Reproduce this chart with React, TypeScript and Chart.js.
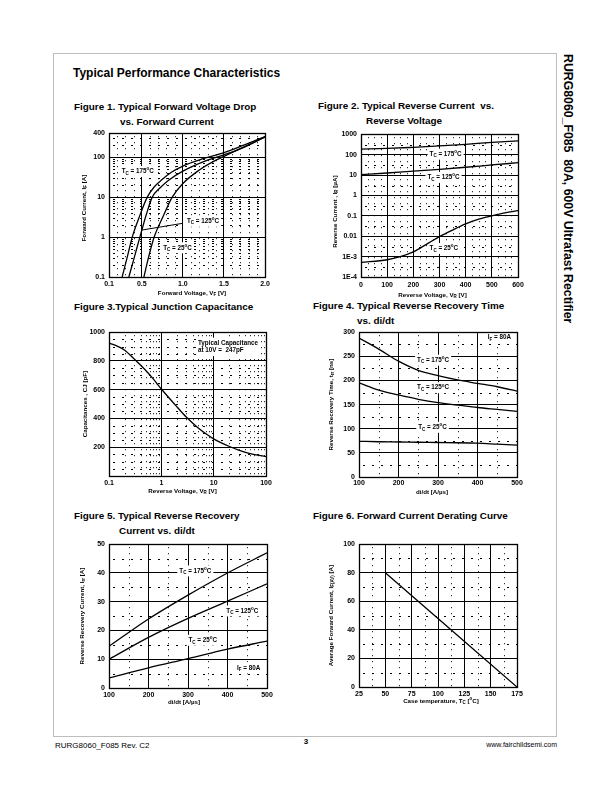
import React, { useEffect, useRef } from "react";
import { Chart, registerables } from "chart.js";
Chart.register(...registerables);

const FONT = "'Liberation Sans', Arial, Helvetica, sans-serif";

// ---------------- DATA ----------------
// Figure 1: forward voltage (V) vs forward current (A)
const fig1XTicks = [0.1, 0.5, 1.0, 1.5, 2.0];
const fig1XLabels = ["0.1", "0.5", "1.0", "1.5", "2.0"];
const fig1YTicks = [0.1, 1, 10, 100, 400];
const fig1YLabels = ["0.1", "1", "10", "100", "400"];
const fig1V175 = [0.26, 0.32, 0.383, 0.476, 0.566, 0.65, 0.75, 0.86, 1.0, 1.22, 1.5, 1.75, 2.0];
const fig1I175 = [0.1, 0.3, 1, 3.5, 10, 18, 28, 42, 60, 88, 130, 205, 330];
const fig1V125 = [0.342, 0.41, 0.476, 0.5, 0.56, 0.627, 0.72, 0.83, 1.0, 1.3, 1.5, 1.75, 2.0];
const fig1I125 = [0.1, 0.32, 1, 1.5, 4, 10, 17, 27, 45, 85, 115, 180, 325];
const fig1V25 = [0.525, 0.58, 0.65, 0.75, 0.87, 1.0, 1.2, 1.38, 1.5, 1.66, 2.0];
const fig1I25 = [0.1, 0.3, 1, 3, 10, 22, 48, 80, 105, 150, 320];

// Figure 2: reverse voltage (V) vs reverse current (uA)
const fig2XTicks = [0, 100, 200, 300, 400, 500, 600];
const fig2XLabels = ["0", "100", "200", "300", "400", "500", "600"];
const fig2YTicks = [1e-4, 1e-3, 0.01, 0.1, 1, 10, 100, 1000];
const fig2YLabels = ["1E-4", "1E-3", "0.01", "0.1", "1", "10", "100", "1000"];
const fig2V = [0, 100, 200, 300, 400, 500, 600];
const fig2I175 = [185, 200, 228, 265, 320, 395, 470];
const fig2I125 = [10.5, 12.5, 15.5, 19, 24, 31, 40];
const fig2V25 = [0, 100, 150, 200, 250, 300, 350, 400, 450, 500, 550, 600];
const fig2I25 = [5.2e-4, 7e-4, 1e-3, 1.7e-3, 4e-3, 9.5e-3, 0.02, 0.04, 0.068, 0.1, 0.14, 0.18];

// Figure 3: reverse voltage (V) vs junction capacitance (pF)
const fig3XTicks = [0.1, 1, 10, 100];
const fig3XLabels = ["0.1", "1", "10", "100"];
const fig3YTicks = [0, 200, 400, 600, 800, 1000];
const fig3YLabels = ["", "200", "400", "600", "800", "1000"];
const fig3V = [0.1, 0.15, 0.2, 0.3, 0.5, 0.7, 1, 2, 3, 5, 7, 10, 20, 30, 50, 100];
const fig3C = [925, 900, 875, 815, 735, 675, 605, 480, 410, 335, 295, 258, 205, 180, 155, 135];

// Figure 4: di/dt (A/us) vs trr (ns)
const fig4XTicks = [100, 200, 300, 400, 500];
const fig4XLabels = ["100", "200", "300", "400", "500"];
const fig4YTicks = [0, 50, 100, 150, 200, 250, 300];
const fig4YLabels = ["0", "50", "100", "150", "200", "250", "300"];
const fig4DiDt = [100, 150, 200, 250, 300, 350, 400, 450, 500];
const fig4T175 = [288, 265, 240, 221, 210, 201, 194, 187, 178];
const fig4T125 = [195, 180, 170, 161, 154, 149, 144, 140, 136];
const fig4T25 = [74, 73, 72.5, 72, 71.5, 71, 70, 68, 66];

// Figure 5: di/dt (A/us) vs Irr (A)
const fig5XTicks = [100, 200, 300, 400, 500];
const fig5XLabels = ["100", "200", "300", "400", "500"];
const fig5YTicks = [0, 10, 20, 30, 40, 50];
const fig5YLabels = ["0", "10", "20", "30", "40", "50"];
const fig5DiDt = [100, 200, 300, 400, 500];
const fig5I175 = [14.5, 24, 32.3, 40, 47];
const fig5I125 = [10, 17.6, 24.2, 30.2, 36.2];
const fig5I25 = [3.5, 7, 10.2, 13.5, 16.3];

// Figure 6: case temperature (C) vs average forward current (A)
const fig6XTicks = [25, 50, 75, 100, 125, 150, 175];
const fig6XLabels = ["25", "50", "75", "100", "125", "150", "175"];
const fig6YTicks = [0, 20, 40, 60, 80, 100];
const fig6YLabels = ["0", "20", "40", "60", "80", "100"];
const fig6Tc = [50, 175];
const fig6I = [80, 0];

// ---------------- helpers ----------------
type Seg = [string] | [string, "sub" | "sup"];
type Ann = { x: number; y: number; lines: Seg[][]; box?: boolean };

const logMinor = (decades: number[], max: number) => {
  const out: number[] = [];
  decades.forEach((d) => {
    for (let k = 2; k <= 9; k++) if (d * k < max) out.push(d * k);
  });
  return out;
};
const stepMinor = (min: number, max: number, step: number, skip: number) => {
  const out: number[] = [];
  for (let v = min + step; v < max - 1e-9; v += step) {
    if (Math.abs(v / skip - Math.round(v / skip)) > 1e-6) out.push(+v.toFixed(4));
  }
  return out;
};

function richWidth(ctx: CanvasRenderingContext2D, parts: Seg[], size: number) {
  let w = 0;
  for (const [t, k] of parts) {
    ctx.font = `bold ${k ? size * 0.72 : size}px ${FONT}`;
    w += ctx.measureText(t).width;
  }
  return w;
}
function drawRich(ctx: CanvasRenderingContext2D, parts: Seg[], x: number, y: number, size: number) {
  ctx.textBaseline = "middle";
  ctx.textAlign = "left";
  let cx = x;
  for (const [t, k] of parts) {
    ctx.font = `bold ${k ? size * 0.72 : size}px ${FONT}`;
    const dy = k === "sub" ? size * 0.32 : k === "sup" ? -size * 0.38 : 0;
    ctx.fillText(t, cx, y + dy);
    cx += ctx.measureText(t).width;
  }
}

const tc = (t: string): Seg[] => [["T"], ["C", "sub"], [" = " + t], ["o", "sup"], ["C"]];

interface Series { x: number[]; y: number[] }
interface FigProps {
  plot: { l: number; t: number; r: number; b: number };
  xType: "linear" | "logarithmic";
  yType: "linear" | "logarithmic";
  xMin: number; xMax: number; yMin: number; yMax: number;
  xTicks: number[]; xLabels: string[]; yTicks: number[]; yLabels: string[];
  xMinor: number[]; yMinor: number[];
  series: Series[];
  anns: Ann[];
  segs?: [number, number, number, number][];
  xTitle: Seg[]; yTitle: Seg[];
  xTickPad: number; xTitleOff: number; xTitleShift: number; yTitleOff: number; yTitleShift?: number;
}

const PL = 54, PR = 14, PT = 8, PB = 34;
const ANN = 6.3;
const AXT = 6.2;

function FigChart(p: FigProps) {
  const ref = useRef<HTMLCanvasElement>(null);
  const w = p.plot.r - p.plot.l + PL + PR;
  const h = p.plot.b - p.plot.t + PT + PB;
  useEffect(() => {
    const decor = {
      id: "decor",
      beforeDatasetsDraw(chart: any) {
        const { ctx, chartArea: a, scales } = chart;
        const xs = scales.x, ys = scales.y;
        ctx.save();
        ctx.strokeStyle = "#000";
        ctx.lineWidth = 1;
        ctx.setLineDash([1, 5]);
        p.xMinor.forEach((v) => {
          const px = Math.round(xs.getPixelForValue(v)) + 0.5;
          ctx.beginPath(); ctx.moveTo(px, a.top + 3); ctx.lineTo(px, a.bottom); ctx.stroke();
        });
        ctx.setLineDash([2, 7]);
        p.yMinor.forEach((v) => {
          const py = Math.round(ys.getPixelForValue(v)) + 0.5;
          ctx.beginPath(); ctx.moveTo(a.left + 4, py); ctx.lineTo(a.right, py); ctx.stroke();
        });
        ctx.setLineDash([]);
        ctx.fillStyle = "#000";
        p.anns.forEach((an) => {
          const px = xs.getPixelForValue(an.x);
          const py = ys.getPixelForValue(an.y);
          const lh = 7.5;
          const wMax = Math.max(...an.lines.map((l) => richWidth(ctx, l, ANN)));
          if (an.box !== false) {
            ctx.fillStyle = "#fff";
            ctx.fillRect(px - 2, py - 5.5, wMax + 4, lh * (an.lines.length - 1) + 11);
          }
          ctx.fillStyle = "#000";
          an.lines.forEach((l, i) => drawRich(ctx, l, px, py + i * lh, ANN));
        });
        (p.segs || []).forEach(([x1, y1, x2, y2]) => {
          ctx.lineWidth = 1;
          ctx.beginPath();
          ctx.moveTo(xs.getPixelForValue(x1), ys.getPixelForValue(y1));
          ctx.lineTo(xs.getPixelForValue(x2), ys.getPixelForValue(y2));
          ctx.stroke();
        });
        ctx.restore();
      },
      afterDatasetsDraw(chart: any) {
        const { ctx, chartArea: a } = chart;
        ctx.save();
        ctx.strokeStyle = "#000";
        ctx.lineWidth = 1.3;
        ctx.strokeRect(Math.round(a.left) + 0.5, Math.round(a.top) + 0.5, Math.round(a.right - a.left), Math.round(a.bottom - a.top));
        ctx.fillStyle = "#000";
        const xw = richWidth(ctx, p.xTitle, AXT);
        drawRich(ctx, p.xTitle, (a.left + a.right) / 2 - xw / 2 + p.xTitleShift, a.bottom + p.xTitleOff, AXT);
        const yw = richWidth(ctx, p.yTitle, AXT);
        ctx.translate(a.left - p.yTitleOff, (a.top + a.bottom) / 2 + (p.yTitleShift || 0));
        ctx.rotate(-Math.PI / 2);
        drawRich(ctx, p.yTitle, -yw / 2, 0, AXT);
        ctx.restore();
      },
    };
    const tickFont = { family: FONT, size: 7, weight: "bold" as const };
    const chart = new Chart(ref.current!, {
      type: "line",
      data: {
        datasets: p.series.map((s) => ({
          data: s.x.map((x, i) => ({ x, y: s.y[i] })),
          borderColor: "#000",
          borderWidth: 1.3,
          pointRadius: 0,
          fill: false,
          cubicInterpolationMode: "monotone" as const,
        })),
      },
      options: {
        animation: false,
        responsive: false,
        events: [],
        layout: { padding: { left: 0, right: PR, top: PT, bottom: 0 } },
        plugins: { legend: { display: false }, tooltip: { enabled: false } },
        scales: {
          x: {
            type: p.xType, min: p.xMin, max: p.xMax, position: "bottom",
            afterBuildTicks: (s: any) => { s.ticks = p.xTicks.map((v) => ({ value: v })); },
            afterFit: (s: any) => { s.height = PB; },
            ticks: { autoSkip: false, maxRotation: 0, minRotation: 0, padding: p.xTickPad, color: "#000", font: tickFont, callback: (_v: any, i: number) => p.xLabels[i] ?? "" },
            grid: { color: "#000", lineWidth: 1, drawTicks: false },
            border: { display: true, color: "#000", width: 1 },
          },
          y: {
            type: p.yType, min: p.yMin, max: p.yMax, position: "left",
            afterBuildTicks: (s: any) => { s.ticks = p.yTicks.map((v) => ({ value: v })); },
            afterFit: (s: any) => { s.width = PL; },
            ticks: { autoSkip: false, padding: 4, color: "#000", font: tickFont, callback: (_v: any, i: number) => p.yLabels[i] ?? "" },
            grid: { color: "#000", lineWidth: 1, drawTicks: false },
            border: { display: true, color: "#000", width: 1 },
          },
        },
      } as any,
      plugins: [decor],
    });
    return () => chart.destroy();
  }, []);
  return (
    <canvas
      ref={ref}
      width={w}
      height={h}
      style={{ position: "absolute", left: p.plot.l - PL, top: p.plot.t - PT, width: w, height: h }}
    />
  );
}

function Txt(props: { x: number; y: number; size: number; bold?: boolean; children: React.ReactNode; anchor?: "left" | "right" | "center" }) {
  const { x, y, size, bold = true, anchor = "left" } = props;
  const style: React.CSSProperties = {
    position: "absolute",
    top: y - size * 0.58,
    fontFamily: FONT,
    fontSize: size,
    fontWeight: bold ? "bold" : "normal",
    lineHeight: 1.15 + "",
    whiteSpace: "pre",
    color: "#000",
  };
  if (anchor === "left") style.left = x;
  else if (anchor === "right") style.right = 612 - x;
  else { style.left = x; style.transform = "translateX(-50%)"; }
  return <div style={style}>{props.children}</div>;
}

export default function App() {
  const ttl = 9.9;
  return (
    <div style={{ position: "absolute", left: 0, top: 0, width: 612, height: 792, background: "#fff", overflow: "hidden" }}>
      <div style={{ position: "absolute", left: 53, top: 53, width: 504, height: 684, border: "1.5px solid #bdbdbd", boxSizing: "border-box" }} />
      <div style={{ position: "absolute", left: 562, top: 54, writingMode: "vertical-rl", fontFamily: FONT, fontWeight: "bold", fontSize: 12.3, lineHeight: 1, whiteSpace: "pre", color: "#000" }}>
        {"RURG8060_F085  80A, 600V Ultrafast Rectifier"}
      </div>
      <Txt x={73} y={74} size={12}>Typical Performance Characteristics</Txt>

      <Txt x={74} y={107} size={ttl}>Figure 1. Typical Forward Voltage Drop</Txt>
      <Txt x={120} y={122} size={ttl}>vs. Forward Current</Txt>
      <Txt x={318} y={106} size={ttl}>{"Figure 2. Typical Reverse Current  vs."}</Txt>
      <Txt x={366} y={121} size={ttl}>Reverse Voltage</Txt>
      <Txt x={74} y={307} size={ttl}>Figure 3.Typical Junction Capacitance</Txt>
      <Txt x={313} y={306} size={ttl}>Figure 4. Typical Reverse Recovery Time</Txt>
      <Txt x={357} y={321} size={ttl}>vs. di/dt</Txt>
      <Txt x={74} y={516} size={ttl}>Figure 5. Typical Reverse Recovery</Txt>
      <Txt x={119} y={531} size={ttl}>Current vs. di/dt</Txt>
      <Txt x={313} y={516} size={ttl}>Figure 6. Forward Current Derating Curve</Txt>

      <FigChart
        plot={{ l: 109, t: 133, r: 265, b: 277 }}
        xType="linear" yType="logarithmic" xMin={0.1} xMax={2.0} yMin={0.1} yMax={400}
        xTicks={fig1XTicks} xLabels={fig1XLabels} yTicks={fig1YTicks} yLabels={fig1YLabels}
        xMinor={stepMinor(0.1, 2.0, 0.1, 0.5)} yMinor={logMinor([0.1, 1, 10, 100], 400)}
        series={[{ x: fig1V175, y: fig1I175 }, { x: fig1V125, y: fig1I125 }, { x: fig1V25, y: fig1I25 }]}
        anns={[
          { x: 0.255, y: 44, lines: [tc("175")] },
          { x: 1.05, y: 2.5, lines: [tc("125")] },
          { x: 0.76, y: 0.54, lines: [tc("25")] },
        ]}
        segs={[[0.99, 2.2, 0.5, 1.5]]}
        xTitle={[["Forward Voltage, V"], ["F", "sub"], [" [V]"]]}
        yTitle={[["Forward Current, I"], ["F", "sub"], [" [A]"]]}
        xTickPad={3} xTitleOff={16} xTitleShift={5} yTitleOff={25} yTitleShift={3}
      />
      <FigChart
        plot={{ l: 361, t: 134, r: 518, b: 277 }}
        xType="linear" yType="logarithmic" xMin={0} xMax={600} yMin={1e-4} yMax={1000}
        xTicks={fig2XTicks} xLabels={fig2XLabels} yTicks={fig2YTicks} yLabels={fig2YLabels}
        xMinor={stepMinor(0, 600, 25, 100)} yMinor={[3e-4, 3e-3, 0.03, 0.3, 3, 30, 300]}
        series={[{ x: fig2V, y: fig2I175 }, { x: fig2V, y: fig2I125 }, { x: fig2V25, y: fig2I25 }]}
        anns={[
          { x: 262, y: 105, lines: [tc("175")] },
          { x: 254, y: 7.6, lines: [tc("125")] },
          { x: 262, y: 2.5e-3, lines: [tc("25")] },
        ]}
        xTitle={[["Reverse Voltage, V"], ["R", "sub"], [" [V]"]]}
        yTitle={[["Reverse Current , I"], ["R", "sub"], [" [µA]"]]}
        xTickPad={4} xTitleOff={18} xTitleShift={-7} yTitleOff={26} yTitleShift={6}
      />
      <FigChart
        plot={{ l: 109, t: 332, r: 266, b: 476 }}
        xType="logarithmic" yType="linear" xMin={0.1} xMax={100} yMin={0} yMax={1000}
        xTicks={fig3XTicks} xLabels={fig3XLabels} yTicks={fig3YTicks} yLabels={fig3YLabels}
        xMinor={logMinor([0.1, 1, 10], 100)} yMinor={stepMinor(0, 1000, 50, 200)}
        series={[{ x: fig3V, y: fig3C }]}
        anns={[
          { x: 5.0, y: 924, lines: [[["Typical Capacitance"]], [["at 10V =  247pF"]]] },
        ]}
        xTitle={[["Reverse Voltage, V"], ["R", "sub"], [" [V]"]]}
        yTitle={[["Capacitances , CJ [pF]"]]}
        xTickPad={3} xTitleOff={15} xTitleShift={-5} yTitleOff={24}
      />
      <FigChart
        plot={{ l: 359, t: 332, r: 517, b: 477 }}
        xType="linear" yType="linear" xMin={100} xMax={500} yMin={0} yMax={300}
        xTicks={fig4XTicks} xLabels={fig4XLabels} yTicks={fig4YTicks} yLabels={fig4YLabels}
        xMinor={stepMinor(100, 500, 50, 100)} yMinor={stepMinor(0, 300, 25, 50)}
        series={[{ x: fig4DiDt, y: fig4T175 }, { x: fig4DiDt, y: fig4T125 }, { x: fig4DiDt, y: fig4T25 }]}
        anns={[
          { x: 426, y: 289, lines: [[["I"], ["F", "sub"], [" = 80A"]]] },
          { x: 247, y: 242, lines: [tc("175")] },
          { x: 247, y: 185, lines: [tc("125")] },
          { x: 250, y: 103, lines: [tc("25")] },
        ]}
        xTitle={[["di/dt [A/µs]"]]}
        yTitle={[["Reverse Recovery Time, t"], ["rr", "sub"], [" [ns]"]]}
        xTickPad={2} xTitleOff={15} xTitleShift={-6} yTitleOff={28}
      />
      <FigChart
        plot={{ l: 109, t: 544, r: 267, b: 688 }}
        xType="linear" yType="linear" xMin={100} xMax={500} yMin={0} yMax={50}
        xTicks={fig5XTicks} xLabels={fig5XLabels} yTicks={fig5YTicks} yLabels={fig5YLabels}
        xMinor={stepMinor(100, 500, 50, 100)} yMinor={stepMinor(0, 50, 5, 10)}
        series={[{ x: fig5DiDt, y: fig5I175 }, { x: fig5DiDt, y: fig5I125 }, { x: fig5DiDt, y: fig5I25 }]}
        anns={[
          { x: 278, y: 40.7, lines: [tc("175")] },
          { x: 397, y: 26.8, lines: [tc("125")] },
          { x: 301, y: 16.6, lines: [tc("25")] },
          { x: 424, y: 7, lines: [[["I"], ["F", "sub"], [" = 80A"]]] },
        ]}
        xTitle={[["di/dt [A/µs]"]]}
        yTitle={[["Reverse Recovery Current, I"], ["rr", "sub"], [" [A]"]]}
        xTickPad={3} xTitleOff={14} xTitleShift={-4} yTitleOff={27}
      />
      <FigChart
        plot={{ l: 359, t: 544, r: 517, b: 687 }}
        xType="linear" yType="linear" xMin={25} xMax={175} yMin={0} yMax={100}
        xTicks={fig6XTicks} xLabels={fig6XLabels} yTicks={fig6YTicks} yLabels={fig6YLabels}
        xMinor={stepMinor(25, 175, 12.5, 25)} yMinor={stepMinor(0, 100, 10, 20)}
        series={[{ x: fig6Tc, y: fig6I }]}
        anns={[]}
        xTitle={[["Case temperature, T"], ["C", "sub"], [" ["], ["o", "sup"], ["C]"]]}
        yTitle={[["Average Forward Current, I"], ["F(AV)", "sub"], [" [A]"]]}
        xTickPad={3} xTitleOff={14} xTitleShift={3} yTitleOff={28}
      />

      <Txt x={55} y={746} size={8} bold={false}>RURG8060_F085 Rev. C2</Txt>
      <Txt x={306} y={742} size={8} anchor="center">3</Txt>
      <Txt x={557} y={745} size={7} bold={false} anchor="right">www.fairchildsemi.com</Txt>
    </div>
  );
}
